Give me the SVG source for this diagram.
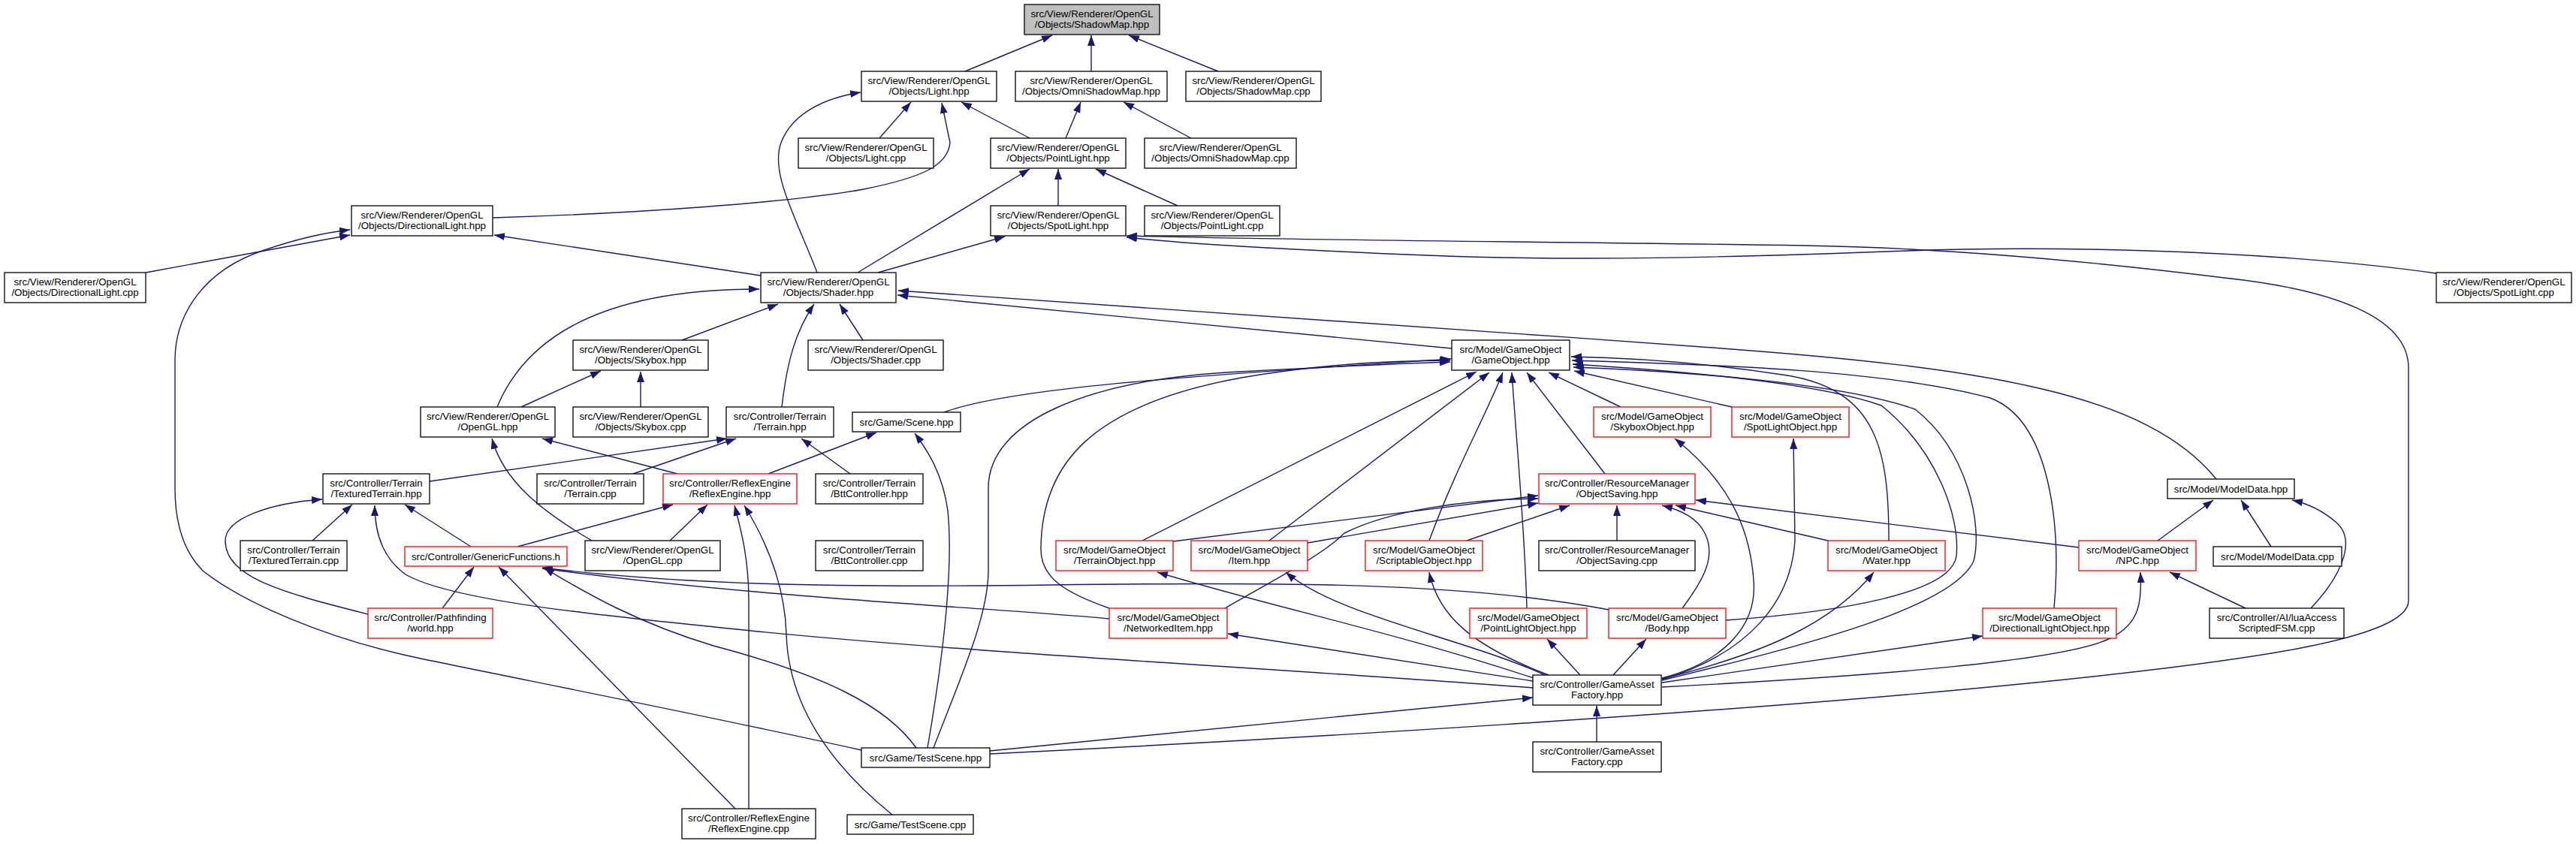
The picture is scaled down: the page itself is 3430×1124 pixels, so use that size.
<svg xmlns="http://www.w3.org/2000/svg" width="3430" height="1124" viewBox="0 0 3430 1124">
<defs>
<style>
.n{fill:#fff;stroke:#000;stroke-width:1.3}
.r{fill:#fff;stroke:#ff0000;stroke-width:1.3}
.g{fill:#bfbfbf;stroke:#000;stroke-width:1.3}
.t{font-family:"Liberation Sans",Arial,sans-serif;font-size:13.3px;text-anchor:middle;fill:#000}
.e{fill:none;stroke:#191970;stroke-width:1.4;marker-end:url(#a)}
</style>
<marker id="a" viewBox="0 0 14 10" refX="14" refY="5" markerWidth="14" markerHeight="10" markerUnits="userSpaceOnUse" orient="auto">
<path d="M0,0 L14,5 L0,10 z" fill="#191970"/>
</marker>
</defs>
<rect width="3430" height="1124" fill="#fff"/>
<g id="edges">
<path class="e" d="M1285,95 L1401,47"/>
<path class="e" d="M1453,95 L1453,47"/>
<path class="e" d="M1622,95 L1503,47"/>
<path class="e" d="M1171,184 L1213,136"/>
<path class="e" d="M1371,184 L1280,136"/>
<path class="e" d="M656,290 C850,284 1050,270 1150,252 C1230,236 1262,220 1265,190 L1254,137"/>
<path class="e" d="M1088,363 C1060,290 1025,230 1040,190 C1055,150 1100,130 1146,123"/>
<path class="e" d="M1419,184 L1439,136"/>
<path class="e" d="M1586,184 L1496,136"/>
<path class="e" d="M1409,274 L1409,225"/>
<path class="e" d="M1568,274 L1459,225"/>
<path class="e" d="M1142,363 L1371,225"/>
<path class="e" d="M1169,363 L1338,315"/>
<path class="e" d="M3244,364 C3000,330 2700,328 2540,334 C2300,343 2100,348 1900,340 C1700,332 1580,325 1500,316"/>
<path class="e" d="M1318,1004 C1700,985 2300,950 2700,910 C3000,880 3207,850 3207,800 L3207,490 C3207,420 3100,385 2962,370 C2800,350 2600,330 2400,327 C2100,322 1700,320 1500,314"/>
<path class="e" d="M194,363 L466,313"/>
<path class="e" d="M1147,999 C950,955 720,910 560,877 C430,850 320,800 270,760 C245,735 233,700 233,650 L233,480 C233,420 270,360 352,333 C390,320 430,310 466,306"/>
<path class="e" d="M1013,367 L658,313"/>
<path class="e" d="M908,453 L1036,405"/>
<path class="e" d="M662,542 C700,450 800,385 1011,385"/>
<path class="e" d="M1041,542 C1048,480 1060,440 1084,405"/>
<path class="e" d="M1149,453 L1118,405"/>
<path class="e" d="M1933,464 L1195,393"/>
<path class="e" d="M2951,638 C2860,525 2650,490 2280,463 C1900,435 1500,410 1196,387"/>
<path class="e" d="M853,542 L853,495"/>
<path class="e" d="M694,542 L800,494"/>
<path class="e" d="M902,631 L722,584"/>
<path class="e" d="M788,720 C720,680 670,640 655,584"/>
<path class="e" d="M572,641 L968,584"/>
<path class="e" d="M843,631 L980,584"/>
<path class="e" d="M1132,631 L1067,584"/>
<path class="e" d="M1023,631 L1167,576"/>
<path class="e" d="M1235,996 C1255,880 1270,760 1262,680 C1255,630 1235,600 1218,577"/>
<path class="e" d="M1257,549 C1350,515 1600,500 1932,478"/>
<path class="e" d="M416,720 L469,672"/>
<path class="e" d="M627,728 L539,672"/>
<path class="e" d="M2041,916 C1700,890 1300,870 1000,840 C800,820 600,800 540,765 C505,740 499,700 499,673"/>
<path class="e" d="M490,818 C380,790 300,770 300,720 C300,690 360,670 429,665"/>
<path class="e" d="M689,728 L896,672"/>
<path class="e" d="M892,720 L942,672"/>
<path class="e" d="M997,1077 L997,800 C997,740 985,700 978,673"/>
<path class="e" d="M1188,1085 C1120,1030 1050,950 1047,844 C1045,780 1020,720 991,673"/>
<path class="e" d="M589,810 L631,755"/>
<path class="e" d="M979,1077 L664,755"/>
<path class="e" d="M2142,812 C1950,775 1700,775 1400,779 C1100,783 900,778 722,756"/>
<path class="e" d="M1477,824 C1300,808 1000,795 722,757"/>
<path class="e" d="M1220,996 C1180,940 1100,900 950,860 C850,830 780,790 724,756"/>
<path class="e" d="M1477,810 C1420,790 1385,770 1386,730 C1387,620 1450,540 1653,503 C1750,486 1850,480 1931,480"/>
<path class="e" d="M1243,996 C1280,900 1316,820 1316,760 L1316,650 C1316,560 1450,505 1650,495 C1780,488 1870,484 1931,482"/>
<path class="e" d="M1521,720 L1966,495"/>
<path class="e" d="M1690,720 L1983,496"/>
<path class="e" d="M1903,720 C1940,620 1980,550 2001,496"/>
<path class="e" d="M2033,810 C2030,700 2020,600 2013,496"/>
<path class="e" d="M2137,631 L2033,496"/>
<path class="e" d="M2158,542 L2062,496"/>
<path class="e" d="M2306,542 L2096,494"/>
<path class="e" d="M2515,720 C2515,600 2500,520 2380,500 C2250,480 2150,476 2092,475"/>
<path class="e" d="M2735,810 C2745,700 2730,560 2650,530 C2500,490 2250,485 2093,480"/>
<path class="e" d="M2298,826 C2450,815 2600,790 2605,740 C2610,690 2580,600 2505,540 C2420,510 2250,495 2094,485"/>
<path class="e" d="M2213,906 C2400,860 2600,810 2628,747 C2640,700 2620,600 2550,545 C2450,510 2250,495 2095,489"/>
<path class="e" d="M1562,721 L2048,660"/>
<path class="e" d="M1741,723 L2048,670"/>
<path class="e" d="M1631,810 C1700,770 1760,740 1790,710 C1850,680 1950,665 2048,664"/>
<path class="e" d="M1950,721 L2090,673"/>
<path class="e" d="M2153,720 L2153,673"/>
<path class="e" d="M2240,810 C2270,770 2285,740 2270,710 C2260,690 2240,680 2213,673"/>
<path class="e" d="M2434,720 L2231,673"/>
<path class="e" d="M2768,729 L2258,666"/>
<path class="e" d="M2042,903 C1850,840 1700,810 1541,762"/>
<path class="e" d="M2057,899 C1950,850 1780,820 1712,762"/>
<path class="e" d="M2062,899 C1960,860 1915,820 1903,762"/>
<path class="e" d="M2104,899 L2060,851"/>
<path class="e" d="M2148,899 L2192,851"/>
<path class="e" d="M2041,907 L1635,844"/>
<path class="e" d="M2213,904 C2350,870 2440,830 2495,762"/>
<path class="e" d="M2213,909 L2640,847"/>
<path class="e" d="M2213,915 C2500,900 2750,880 2810,850 C2850,830 2852,800 2850,762"/>
<path class="e" d="M2213,903 C2300,880 2340,830 2335,773 C2330,700 2300,640 2230,584"/>
<path class="e" d="M2213,905 C2330,870 2385,800 2390,720 L2388,584"/>
<path class="e" d="M2126,988 L2126,940"/>
<path class="e" d="M1318,1000 L2041,929"/>
<path class="e" d="M2873,720 L2947,666"/>
<path class="e" d="M3024,728 L2984,666"/>
<path class="e" d="M3077,810 C3115,770 3140,720 3110,695 C3090,678 3070,670 3052,666"/>
<path class="e" d="M2990,810 L2889,762"/>
</g>
<g id="n1"><rect class="g" x="1364" y="6" width="180" height="40"/><text class="t" x="1454" y="22.5">src/View/Renderer/OpenGL</text><text class="t" x="1454" y="36.7">/Objects/ShadowMap.hpp</text></g>
<g id="n2"><rect class="n" x="1147" y="95" width="180" height="40"/><text class="t" x="1237" y="111.5">src/View/Renderer/OpenGL</text><text class="t" x="1237" y="125.7">/Objects/Light.hpp</text></g>
<g id="n3"><rect class="n" x="1352" y="95" width="202" height="40"/><text class="t" x="1453" y="111.5">src/View/Renderer/OpenGL</text><text class="t" x="1453" y="125.7">/Objects/OmniShadowMap.hpp</text></g>
<g id="n4"><rect class="n" x="1579" y="95" width="180" height="40"/><text class="t" x="1669" y="111.5">src/View/Renderer/OpenGL</text><text class="t" x="1669" y="125.7">/Objects/ShadowMap.cpp</text></g>
<g id="n5"><rect class="n" x="1063" y="184" width="180" height="40"/><text class="t" x="1153" y="200.5">src/View/Renderer/OpenGL</text><text class="t" x="1153" y="214.7">/Objects/Light.cpp</text></g>
<g id="n6"><rect class="n" x="1319" y="184" width="180" height="40"/><text class="t" x="1409" y="200.5">src/View/Renderer/OpenGL</text><text class="t" x="1409" y="214.7">/Objects/PointLight.hpp</text></g>
<g id="n7"><rect class="n" x="1524" y="184" width="202" height="40"/><text class="t" x="1625" y="200.5">src/View/Renderer/OpenGL</text><text class="t" x="1625" y="214.7">/Objects/OmniShadowMap.cpp</text></g>
<g id="n8"><rect class="n" x="468" y="274" width="188" height="40"/><text class="t" x="562" y="290.5">src/View/Renderer/OpenGL</text><text class="t" x="562" y="304.7">/Objects/DirectionalLight.hpp</text></g>
<g id="n9"><rect class="n" x="1319" y="274" width="180" height="40"/><text class="t" x="1409" y="290.5">src/View/Renderer/OpenGL</text><text class="t" x="1409" y="304.7">/Objects/SpotLight.hpp</text></g>
<g id="n10"><rect class="n" x="1524" y="274" width="180" height="40"/><text class="t" x="1614" y="290.5">src/View/Renderer/OpenGL</text><text class="t" x="1614" y="304.7">/Objects/PointLight.cpp</text></g>
<g id="n11"><rect class="n" x="6" y="363" width="188" height="40"/><text class="t" x="100" y="379.5">src/View/Renderer/OpenGL</text><text class="t" x="100" y="393.7">/Objects/DirectionalLight.cpp</text></g>
<g id="n12"><rect class="n" x="1013" y="363" width="180" height="40"/><text class="t" x="1103" y="379.5">src/View/Renderer/OpenGL</text><text class="t" x="1103" y="393.7">/Objects/Shader.hpp</text></g>
<g id="n13"><rect class="n" x="3244" y="363" width="180" height="40"/><text class="t" x="3334" y="379.5">src/View/Renderer/OpenGL</text><text class="t" x="3334" y="393.7">/Objects/SpotLight.cpp</text></g>
<g id="n14"><rect class="n" x="763" y="453" width="180" height="40"/><text class="t" x="853" y="469.5">src/View/Renderer/OpenGL</text><text class="t" x="853" y="483.7">/Objects/Skybox.hpp</text></g>
<g id="n15"><rect class="n" x="1076" y="453" width="180" height="40"/><text class="t" x="1166" y="469.5">src/View/Renderer/OpenGL</text><text class="t" x="1166" y="483.7">/Objects/Shader.cpp</text></g>
<g id="n16"><rect class="n" x="1933" y="453" width="157" height="40"/><text class="t" x="2011.5" y="469.5">src/Model/GameObject</text><text class="t" x="2011.5" y="483.7">/GameObject.hpp</text></g>
<g id="n17"><rect class="n" x="560" y="542" width="179" height="40"/><text class="t" x="649.5" y="558.5">src/View/Renderer/OpenGL</text><text class="t" x="649.5" y="572.7">/OpenGL.hpp</text></g>
<g id="n18"><rect class="n" x="763" y="542" width="180" height="40"/><text class="t" x="853" y="558.5">src/View/Renderer/OpenGL</text><text class="t" x="853" y="572.7">/Objects/Skybox.cpp</text></g>
<g id="n19"><rect class="n" x="967" y="542" width="143" height="40"/><text class="t" x="1038.5" y="558.5">src/Controller/Terrain</text><text class="t" x="1038.5" y="572.7">/Terrain.hpp</text></g>
<g id="n20"><rect class="n" x="1135" y="549" width="144" height="26"/><text class="t" x="1207" y="566.5">src/Game/Scene.hpp</text></g>
<g id="n21"><rect class="r" x="2122" y="542" width="156" height="40"/><text class="t" x="2200" y="558.5">src/Model/GameObject</text><text class="t" x="2200" y="572.7">/SkyboxObject.hpp</text></g>
<g id="n22"><rect class="r" x="2306" y="542" width="156" height="40"/><text class="t" x="2384" y="558.5">src/Model/GameObject</text><text class="t" x="2384" y="572.7">/SpotLightObject.hpp</text></g>
<g id="n23"><rect class="n" x="430" y="631" width="142" height="40"/><text class="t" x="501" y="647.5">src/Controller/Terrain</text><text class="t" x="501" y="661.7">/TexturedTerrain.hpp</text></g>
<g id="n24"><rect class="n" x="715" y="631" width="142" height="40"/><text class="t" x="786" y="647.5">src/Controller/Terrain</text><text class="t" x="786" y="661.7">/Terrain.cpp</text></g>
<g id="n25"><rect class="r" x="883" y="631" width="178" height="40"/><text class="t" x="972" y="647.5">src/Controller/ReflexEngine</text><text class="t" x="972" y="661.7">/ReflexEngine.hpp</text></g>
<g id="n26"><rect class="n" x="1086" y="631" width="143" height="40"/><text class="t" x="1157.5" y="647.5">src/Controller/Terrain</text><text class="t" x="1157.5" y="661.7">/BttController.hpp</text></g>
<g id="n27"><rect class="r" x="2049" y="631" width="208" height="40"/><text class="t" x="2153" y="647.5">src/Controller/ResourceManager</text><text class="t" x="2153" y="661.7">/ObjectSaving.hpp</text></g>
<g id="n28"><rect class="n" x="2886" y="638" width="169" height="26"/><text class="t" x="2970.5" y="655.5">src/Model/ModelData.hpp</text></g>
<g id="n29"><rect class="n" x="320" y="720" width="142" height="40"/><text class="t" x="391" y="736.5">src/Controller/Terrain</text><text class="t" x="391" y="750.7">/TexturedTerrain.cpp</text></g>
<g id="n30"><rect class="r" x="539" y="728" width="216" height="26"/><text class="t" x="647" y="745.5">src/Controller/GenericFunctions.h</text></g>
<g id="n31"><rect class="n" x="779" y="720" width="180" height="40"/><text class="t" x="869" y="736.5">src/View/Renderer/OpenGL</text><text class="t" x="869" y="750.7">/OpenGL.cpp</text></g>
<g id="n32"><rect class="n" x="1086" y="720" width="143" height="40"/><text class="t" x="1157.5" y="736.5">src/Controller/Terrain</text><text class="t" x="1157.5" y="750.7">/BttController.cpp</text></g>
<g id="n33"><rect class="r" x="1406" y="720" width="156" height="40"/><text class="t" x="1484" y="736.5">src/Model/GameObject</text><text class="t" x="1484" y="750.7">/TerrainObject.hpp</text></g>
<g id="n34"><rect class="r" x="1586" y="720" width="155" height="40"/><text class="t" x="1663.5" y="736.5">src/Model/GameObject</text><text class="t" x="1663.5" y="750.7">/Item.hpp</text></g>
<g id="n35"><rect class="r" x="1818" y="720" width="156" height="40"/><text class="t" x="1896" y="736.5">src/Model/GameObject</text><text class="t" x="1896" y="750.7">/ScriptableObject.hpp</text></g>
<g id="n36"><rect class="n" x="2049" y="720" width="208" height="40"/><text class="t" x="2153" y="736.5">src/Controller/ResourceManager</text><text class="t" x="2153" y="750.7">/ObjectSaving.cpp</text></g>
<g id="n37"><rect class="r" x="2434" y="720" width="156" height="40"/><text class="t" x="2512" y="736.5">src/Model/GameObject</text><text class="t" x="2512" y="750.7">/Water.hpp</text></g>
<g id="n38"><rect class="r" x="2768" y="720" width="156" height="40"/><text class="t" x="2846" y="736.5">src/Model/GameObject</text><text class="t" x="2846" y="750.7">/NPC.hpp</text></g>
<g id="n39"><rect class="n" x="2947" y="728" width="171" height="26"/><text class="t" x="3032.5" y="745.5">src/Model/ModelData.cpp</text></g>
<g id="n40"><rect class="r" x="490" y="810" width="166" height="40"/><text class="t" x="573" y="826.5">src/Controller/Pathfinding</text><text class="t" x="573" y="840.7">/world.hpp</text></g>
<g id="n41"><rect class="r" x="1477" y="810" width="157" height="40"/><text class="t" x="1555.5" y="826.5">src/Model/GameObject</text><text class="t" x="1555.5" y="840.7">/NetworkedItem.hpp</text></g>
<g id="n42"><rect class="r" x="1957" y="810" width="156" height="40"/><text class="t" x="2035" y="826.5">src/Model/GameObject</text><text class="t" x="2035" y="840.7">/PointLightObject.hpp</text></g>
<g id="n43"><rect class="r" x="2142" y="810" width="156" height="40"/><text class="t" x="2220" y="826.5">src/Model/GameObject</text><text class="t" x="2220" y="840.7">/Body.hpp</text></g>
<g id="n44"><rect class="r" x="2640" y="810" width="178" height="40"/><text class="t" x="2729" y="826.5">src/Model/GameObject</text><text class="t" x="2729" y="840.7">/DirectionalLightObject.hpp</text></g>
<g id="n45"><rect class="n" x="2942" y="810" width="179" height="40"/><text class="t" x="3031.5" y="826.5">src/Controller/AI/luaAccess</text><text class="t" x="3031.5" y="840.7">ScriptedFSM.cpp</text></g>
<g id="n46"><rect class="n" x="2041" y="899" width="171" height="40"/><text class="t" x="2126.5" y="915.5">src/Controller/GameAsset</text><text class="t" x="2126.5" y="929.7">Factory.hpp</text></g>
<g id="n47"><rect class="n" x="1147" y="996" width="171" height="26"/><text class="t" x="1232.5" y="1013.5">src/Game/TestScene.hpp</text></g>
<g id="n48"><rect class="n" x="2041" y="988" width="171" height="40"/><text class="t" x="2126.5" y="1004.5">src/Controller/GameAsset</text><text class="t" x="2126.5" y="1018.7">Factory.cpp</text></g>
<g id="n49"><rect class="n" x="908" y="1077" width="178" height="40"/><text class="t" x="997" y="1093.5">src/Controller/ReflexEngine</text><text class="t" x="997" y="1107.7">/ReflexEngine.cpp</text></g>
<g id="n50"><rect class="n" x="1128" y="1085" width="168" height="26"/><text class="t" x="1212" y="1102.5">src/Game/TestScene.cpp</text></g>
</svg>
